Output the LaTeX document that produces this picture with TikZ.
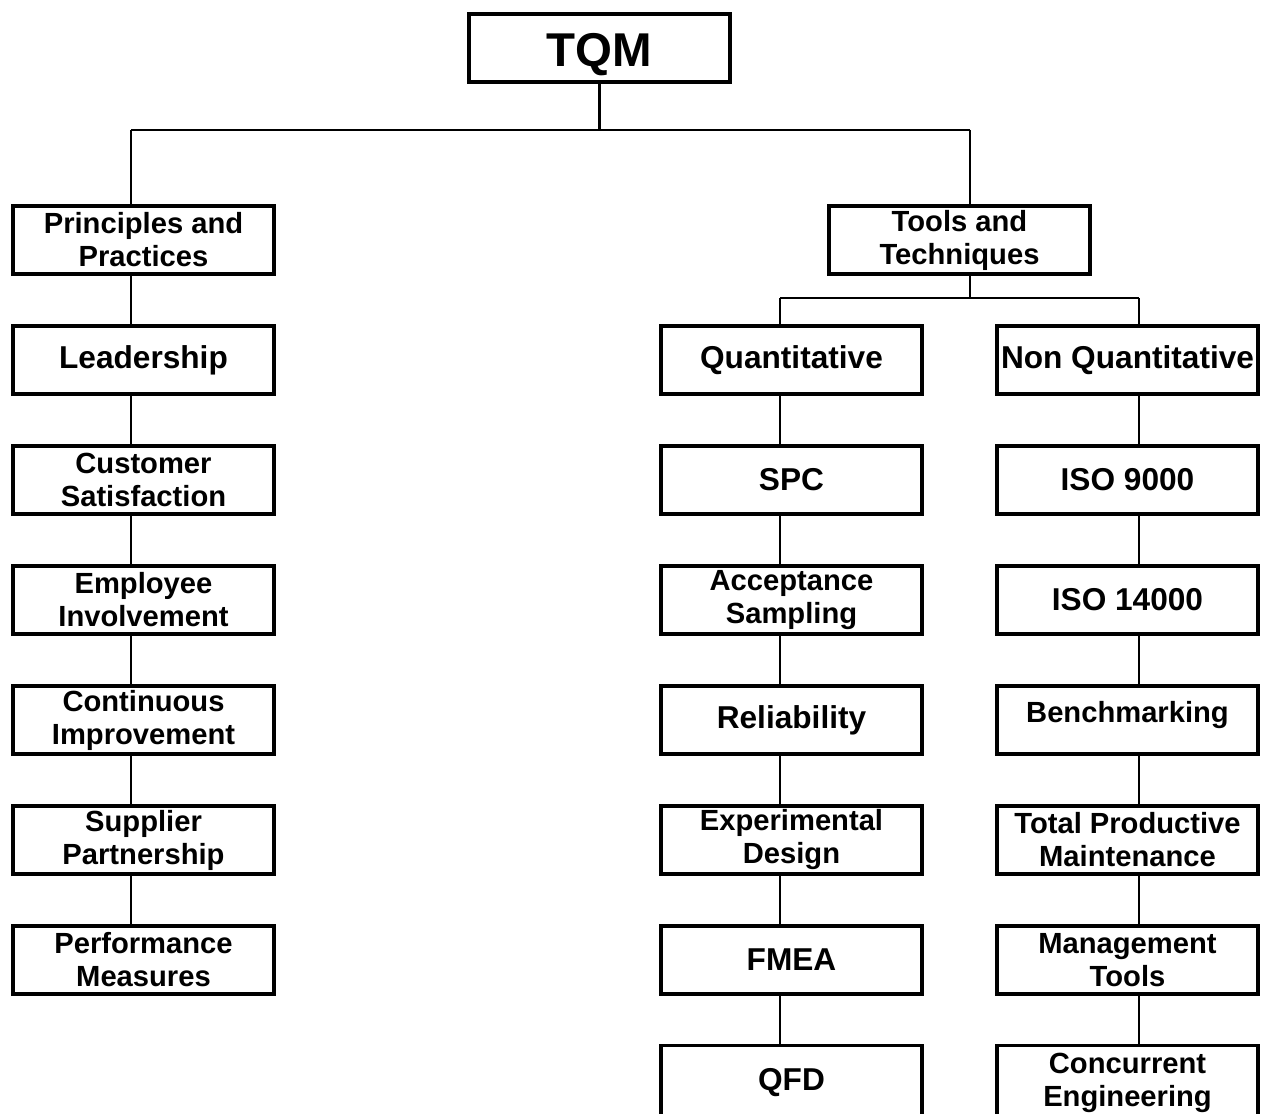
\documentclass[tikz,border=0pt]{standalone}
\usepackage{fontspec}
\setmainfont{Liberation Sans}
\usetikzlibrary{positioning}

\begin{document}
\begin{tikzpicture}[x=0.02cm,y=-0.02cm,
    box/.style={draw,line width=2.1pt,minimum width=5.22cm,minimum height=1.36cm,
      inner sep=0pt,align=center,font=\bfseries\fontsize{16.6}{18.8}\selectfont},
    bigbox/.style={box,font=\bfseries\fontsize{18}{21}\selectfont},
    lastbox/.style={minimum height=1.5cm},
    link/.style={line width=1.3pt}]
\useasboundingbox (0,0) rectangle (1267,1114);

\node[box,font=\bfseries\fontsize{27}{30}\selectfont] (tqm) at (599.5,48)
  {\raisebox{-3.5pt}[\height][\depth]{TQM}};

% principles column
\node[box] (pp) at (143.5,240) {Principles and\\Practices};
\node[bigbox] (lead) at (143.5,360) {Leadership};
\node[box] (cust) at (143.5,480) {Customer\\Satisfaction};
\node[box] (empl) at (143.5,600) {Employee\\Involvement};
\node[box] (cont) at (143.5,720) {Continuous\\Improvement};
\node[box] (supp) at (143.5,840) {Supplier\\Partnership};
\node[box] (perf) at (143.5,960) {Performance\\Measures};

% tools
\node[box] (tt) at (959.5,240) {Tools and\\Techniques};
\node[bigbox] (quant) at (791.5,360) {Quantitative};
\node[bigbox] (spc) at (791.5,480) {SPC};
\node[box] (acc) at (791.5,600) {Acceptance\\Sampling};
\node[bigbox] (rel) at (791.5,720) {Reliability};
\node[box] (exp) at (791.5,840) {Experimental\\Design};
\node[bigbox] (fmea) at (791.5,960) {FMEA};
\node[bigbox,lastbox] (qfd) at (791.5,1083) {QFD};

\node[bigbox] (nonq) at (1127.5,360) {Non Quantitative};
\node[bigbox] (iso9) at (1127.5,480) {ISO 9000};
\node[bigbox] (iso14) at (1127.5,600) {ISO 14000};
\node[box] (bench) at (1127.5,720) {\raisebox{3pt}[\height][\depth]{Benchmarking}};
\node[box] (tpm) at (1127.5,840) {Total Productive\\Maintenance};
\node[box] (mgmt) at (1127.5,960) {Management\\Tools};
\node[box,lastbox] (conc) at (1127.5,1083) {Concurrent\\Engineering};

\coordinate (ls) at (131,130);
\coordinate (rs) at (970,130);
\coordinate (qs) at (780,298);
\coordinate (ns) at (1139,298);

\draw[link] (tqm.south) -- (tqm.south |- ls);
\draw[link] (ls) -- (rs);
\draw[link] (ls) -- (ls |- pp.north);
\draw[link] (rs) -- (rs |- tt.north);
\draw[link] (tt.south -| rs) -- (rs |- qs);
\draw[link] (qs) -- (ns);
\draw[link] (qs) -- (qs |- quant.north);
\draw[link] (ns) -- (ns |- nonq.north);

\foreach \a/\b in {pp/lead,lead/cust,cust/empl,empl/cont,cont/supp,supp/perf}
  \draw[link] (\a.south -| ls) -- (\b.north -| ls);
\foreach \a/\b in {quant/spc,spc/acc,acc/rel,rel/exp,exp/fmea,fmea/qfd}
  \draw[link] (\a.south -| qs) -- (\b.north -| qs);
\foreach \a/\b in {nonq/iso9,iso9/iso14,iso14/bench,bench/tpm,tpm/mgmt,mgmt/conc}
  \draw[link] (\a.south -| ns) -- (\b.north -| ns);
\end{tikzpicture}
\end{document}
